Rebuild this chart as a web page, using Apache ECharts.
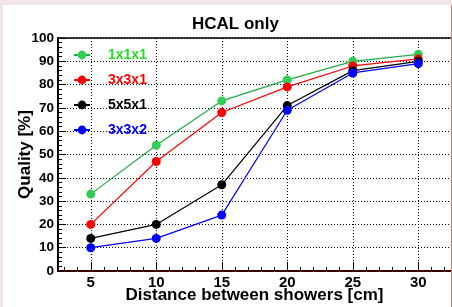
<!DOCTYPE html>
<html>
<head>
<meta charset="utf-8">
<script src="https://cdn.jsdelivr.net/npm/echarts@6/dist/echarts.min.js"></script>
<style>
  html, body { margin: 0; padding: 0; }
  body { width: 452px; height: 307px; background: #f0e6e6; position: relative; overflow: hidden; }
  #chart {
    position: absolute; left: 3px; top: 5px;
    width: 448px; height: 302px;
    background: #fff;
    border-right: 1px solid #c47a7a;
  }
</style>
</head>
<body>
<div id="chart"></div>
<script>
// values
var distances = [5, 10, 15, 20, 25, 30];
var q111 = [33, 54, 73, 82, 90, 93];
var q331 = [20, 47, 68, 79, 88, 91];
var q551 = [14, 20, 37, 71, 86, 90];
var q332 = [10, 14, 24, 69, 85, 89];
var seriesNames = ['1x1x1', '3x3x1', '5x5x1', '3x3x2'];
var xMajor = [5, 10, 15, 20, 25, 30];
var xMinor = [3, 4, 6, 7, 8, 9, 11, 12, 13, 14, 16, 17, 18, 19, 21, 22, 23, 24, 26, 27, 28, 29, 31, 32];

var font = "'Liberation Sans', Arial, sans-serif";

function pairs(ys) {
  return distances.map(function (d, i) { return [d, ys[i]]; });
}

var myChart = echarts.init(document.getElementById('chart'));

var option = {
  animation: false,
  title: {
    text: 'HCAL only',
    left: 189,
    top: 11,
    padding: 0,
    textStyle: { fontFamily: font, fontSize: 17, fontWeight: 'bold', color: '#000' }
  },
  legend: {
    orient: 'vertical',
    left: 70,
    top: 43,
    padding: 0,
    itemWidth: 16,
    itemHeight: 11,
    itemGap: 11,
    textStyle: { fontFamily: font, fontSize: 14, fontWeight: 'bold', padding: [0, 0, 0, 13] },
    data: [
      { name: '1x1x1', textStyle: { color: '#22dd22' } },
      { name: '3x3x1', textStyle: { color: '#ff0000' } },
      { name: '5x5x1', textStyle: { color: '#000000' } },
      { name: '3x3x2', textStyle: { color: '#0000ff' } }
    ]
  },
  grid: { left: 55, top: 33, right: 0, bottom: 36, containLabel: false, outerBoundsMode: 'none' },
  xAxis: [
    {
      type: 'value', min: 2.5, max: 32.5, position: 'bottom',
      name: 'Distance between showers [cm]',
      nameLocation: 'middle',
      nameGap: 16,
      nameMoveOverlap: false,
      nameTextStyle: { fontFamily: font, fontSize: 17, fontWeight: 'bold', color: '#000' },
      axisLine: { onZero: false, lineStyle: { color: '#3a0000', width: 2 } },
      axisTick: { customValues: xMinor, inside: true, length: 4, lineStyle: { color: '#000' } },
      axisLabel: { customValues: xMajor, margin: 4, fontFamily: font, fontSize: 15, fontWeight: 'bold', color: '#000' },
      splitLine: { show: false }
    },
    {
      type: 'value', min: 2.5, max: 32.5, position: 'bottom',
      axisLine: { show: false },
      axisTick: { customValues: xMajor, inside: true, length: 9, lineStyle: { color: '#000' } },
      axisLabel: { show: false },
      splitLine: { show: true, lineStyle: { color: '#000', width: 1, type: [1, 2] } }
    },
    {
      type: 'value', min: 2.5, max: 32.5, position: 'top',
      axisLine: { onZero: false, lineStyle: { color: '#000', width: 1.5 } },
      axisTick: { show: false },
      axisLabel: { show: false },
      splitLine: { show: false }
    }
  ],
  yAxis: {
    type: 'value', min: 0, max: 100, interval: 10,
    name: 'Quality [%]',
    nameLocation: 'middle',
    nameGap: 24,
    nameMoveOverlap: false,
    nameTextStyle: { fontFamily: font, fontSize: 17, fontWeight: 'bold', color: '#000' },
    axisLine: { show: true, lineStyle: { color: '#000', width: 2 } },
    axisTick: { inside: true, length: 8, lineStyle: { color: '#000' } },
    minorTick: { show: true, splitNumber: 5, length: 4, lineStyle: { color: '#000' } },
    axisLabel: { margin: 4, fontFamily: font, fontSize: 13.5, fontWeight: 'bold', color: '#000' },
    splitLine: { show: true, lineStyle: { color: '#000', width: 1, type: [1, 2] } }
  },
  series: [
    {
      name: '1x1x1', type: 'line', data: pairs(q111),
      symbol: 'circle', symbolSize: 9,
      itemStyle: { color: '#33cc55' },
      lineStyle: { color: '#22aa44', width: 1.2 }
    },
    {
      name: '3x3x1', type: 'line', data: pairs(q331),
      symbol: 'circle', symbolSize: 9,
      itemStyle: { color: '#ff0000' },
      lineStyle: { color: '#ff0000', width: 1.2 }
    },
    {
      name: '5x5x1', type: 'line', data: pairs(q551),
      symbol: 'circle', symbolSize: 9,
      itemStyle: { color: '#000000' },
      lineStyle: { color: '#000000', width: 1.2 }
    },
    {
      name: '3x3x2', type: 'line', data: pairs(q332),
      symbol: 'circle', symbolSize: 9,
      itemStyle: { color: '#0000ff' },
      lineStyle: { color: '#0000ff', width: 1.2 }
    }
  ]
};

myChart.setOption(option);
window.addEventListener('resize', function () { myChart.resize(); });
</script>
</body>
</html>
